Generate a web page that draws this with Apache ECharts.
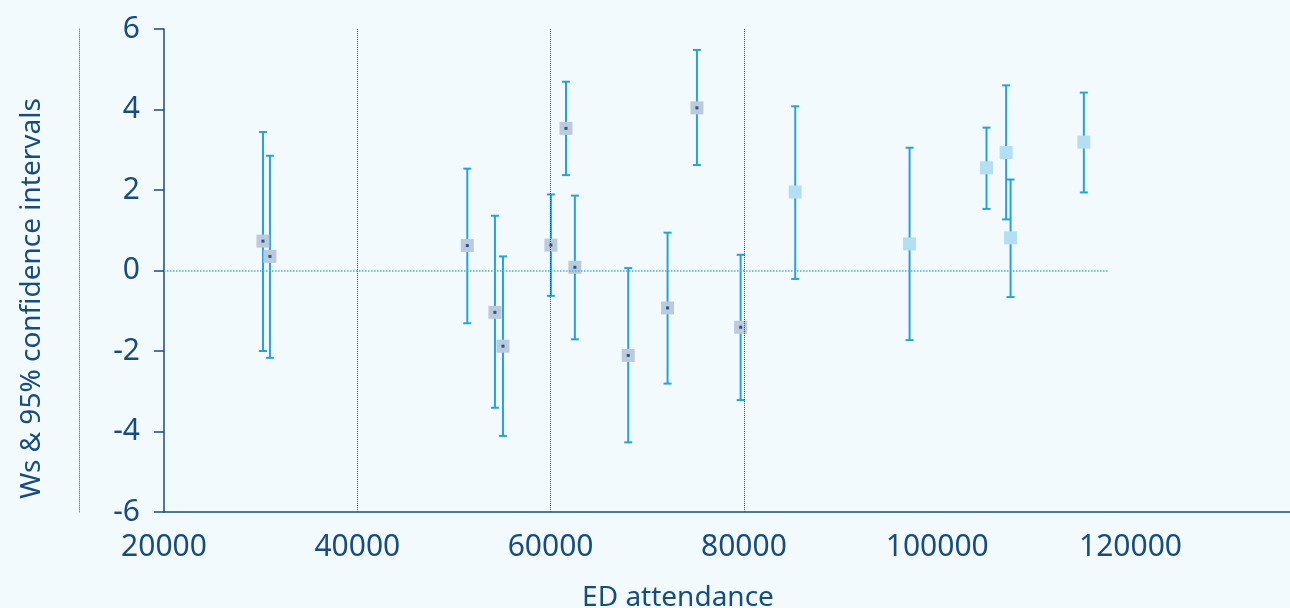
<!DOCTYPE html>
<html>
<head>
<meta charset="utf-8">
<script src="https://cdn.jsdelivr.net/npm/echarts@6/dist/echarts.min.js"></script>
<style>
    html, body { margin: 0; padding: 0; background: #f3fafd; }
    #main { width: 1290px; height: 608px; }
</style>
</head>
<body>
<div id="main"></div>
<script>
// ED attendance, Ws estimate, lower and upper 95% limits
var edAttendance = [30240, 30960, 51380, 54240, 55070, 60030, 62510, 61590, 68030, 72100, 75140, 79660,
                    85310, 97140, 105100, 107130, 107590, 115170];
var wsValue = [0.73, 0.35, 0.62, -1.04, -1.88, 0.63, 0.08, 3.53, -2.11, -0.93, 4.04, -1.41,
               1.95, 0.66, 2.55, 2.93, 0.81, 3.19];
var ciLower = [-2.0, -2.17, -1.31, -3.41, -4.11, -0.63, -1.71, 2.37, -4.27, -2.81, 2.62, -3.22,
               -0.21, -1.73, 1.53, 1.27, -0.66, 1.94];
var ciUpper = [3.44, 2.85, 2.53, 1.36, 0.35, 1.89, 1.86, 4.69, 0.06, 0.94, 5.48, 0.39,
               4.08, 3.05, 3.55, 4.60, 2.26, 4.42];
var splitAttendance = 80000;          // points above this drawn in light blue
var referenceLines = [40000, 60000, 80000];
var zeroLineRange = [20000, 117750];
var yTicks = ['-6', '-4', '-2', '0', '2', '4', '6'];

var textColor = '#174c80';
var font = 'Noto Sans';

var greyPoints = [], lightPoints = [], bars = [];
for (var i = 0; i < edAttendance.length; i++) {
    var p = [edAttendance[i], wsValue[i]];
    if (edAttendance[i] < splitAttendance) greyPoints.push(p); else lightPoints.push(p);
    bars.push([edAttendance[i], ciLower[i], ciUpper[i]]);
}

var myChart = echarts.init(document.getElementById('main'));

var zeroStyle = { color: '#45b0e0', type: 'dotted', width: 1.5 };

var option = {
    backgroundColor: '#f3fafd',
    animation: false,
    grid: { left: 164, right: 0, top: 29, bottom: 96, outerBoundsMode: 'none' },
    xAxis: {
        type: 'value',
        min: 20000,
        max: 136500,
        interval: 20000,
        name: 'ED attendance',
        nameLocation: 'middle',
        nameGap: 72,
        nameTextStyle: { color: textColor, fontSize: 28, fontFamily: font, padding: [0, 98, 0, 0] },
        axisLine: { show: true, onZero: false, lineStyle: { color: textColor, width: 1.5 } },
        axisTick: { show: false },
        axisLabel: {
            color: textColor, fontSize: 30, fontFamily: font, margin: 20, showMaxLabel: false,
            formatter: function(v) { return String(v); }
        },
        splitLine: { show: false }
    },
    yAxis: [{
        type: 'value',
        min: -6,
        max: 6,
        interval: 2,
        name: 'Ws & 95% confidence intervals',
        nameLocation: 'middle',
        nameGap: 118,
        nameTextStyle: { color: textColor, fontSize: 28, fontFamily: font, padding: [0, 56, 0, 0] },
        axisLine: { show: true, onZero: false, lineStyle: { color: textColor, width: 1.5 } },
        axisTick: { show: true, length: 10, lineStyle: { color: textColor, width: 1.5 } },
        axisLabel: {
            color: textColor, fontSize: 30, fontFamily: font, margin: 24,
            formatter: function(v) { return yTicks[Math.round((v + 6) / 2)]; }
        },
        splitLine: { show: false }
    }, {
        type: 'value',
        position: 'left',
        offset: 85,
        min: -6,
        max: 6,
        axisLine: { show: true, onZero: false, lineStyle: { color: '#6f8fb5', type: 'dotted', width: 1 } },
        axisTick: { show: false },
        axisLabel: { show: false },
        splitLine: { show: false }
    }],
    series: [{
        name: 'ci',
        type: 'custom',
        data: bars,
        z: 2,
        renderItem: function(params, api) {
            var x = api.value(0);
            var lo = api.coord([x, api.value(1)]);
            var hi = api.coord([x, api.value(2)]);
            var half = 4;
            var style = { stroke: '#26a2da', lineWidth: 2 };
            return {
                type: 'group',
                children: [
                    { type: 'line', shape: { x1: lo[0], y1: lo[1], x2: hi[0], y2: hi[1] }, style: style },
                    { type: 'line', shape: { x1: lo[0] - half, y1: lo[1], x2: lo[0] + half, y2: lo[1] }, style: style },
                    { type: 'line', shape: { x1: hi[0] - half, y1: hi[1], x2: hi[0] + half, y2: hi[1] }, style: style }
                ]
            };
        },
        markLine: {
            silent: true,
            symbol: 'none',
            label: { show: false },
            lineStyle: { color: '#1d4f86', type: 'dotted', width: 1 },
            data: referenceLines.map(function(v) {
                return { xAxis: v };
            }).concat([[
                { coord: [zeroLineRange[0], 0], lineStyle: zeroStyle },
                { coord: [zeroLineRange[1], 0], lineStyle: zeroStyle }
            ]])
        }
    }, {
        name: 'below 80000',
        type: 'scatter',
        data: greyPoints,
        symbol: 'rect',
        symbolSize: 13,
        z: 3,
        itemStyle: { color: '#bccadb', opacity: 1 }
    }, {
        name: 'centre',
        type: 'scatter',
        data: greyPoints,
        symbol: 'rect',
        symbolSize: 3,
        z: 4,
        itemStyle: { color: '#1d5a94', opacity: 1 }
    }, {
        name: 'above 80000',
        type: 'scatter',
        data: lightPoints,
        symbol: 'rect',
        symbolSize: 13,
        z: 3,
        itemStyle: { color: '#b4def2', opacity: 1 }
    }]
};

myChart.setOption(option);
</script>
</body>
</html>
